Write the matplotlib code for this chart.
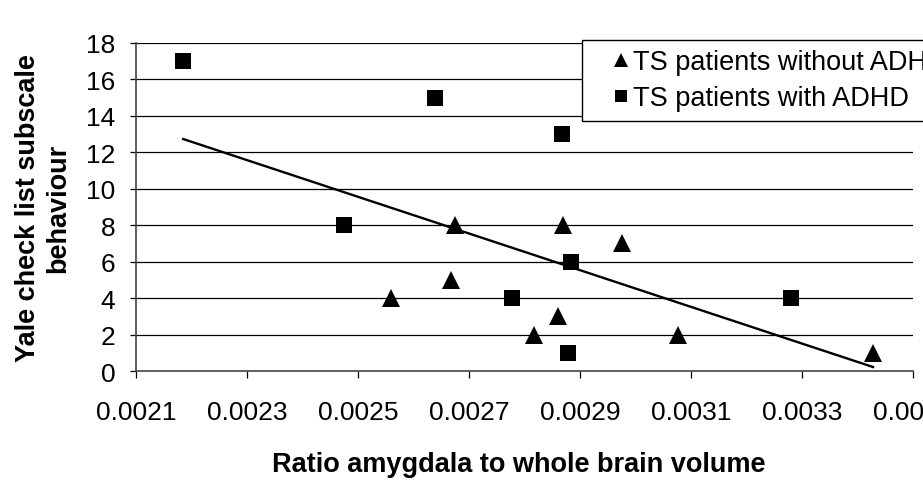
import matplotlib
matplotlib.use('Agg')
import matplotlib.pyplot as plt
import numpy as np

plt.rcParams['font.family'] = ['Liberation Sans', 'DejaVu Sans']

# TS patients without ADHD (triangles)
x_without = [0.002675, 0.002870, 0.002975, 0.002668, 0.002559,
             0.002861, 0.002817, 0.003076, 0.003428]
y_without = [8, 8, 7, 5, 4, 3, 2, 2, 1]

# TS patients with ADHD (squares)
x_with = [0.002185, 0.002639, 0.002867, 0.002474, 0.002884,
          0.002778, 0.002879, 0.003280]
y_with = [17, 15, 13, 8, 6, 4, 1, 4]

x_ticks = [0.0021, 0.0023, 0.0025, 0.0027, 0.0029, 0.0031, 0.0033, 0.0035]
y_ticks = [0, 2, 4, 6, 8, 10, 12, 14, 16, 18]

W, H = 923, 481
fig = plt.figure(figsize=(W / 100, H / 100), dpi=100)
ax = fig.add_axes([136 / W, 1 - 372 / H, 777 / W, 328 / H])

# gridlines
for yv in y_ticks[1:]:
    ax.axhline(yv, color='black', lw=0.9, zorder=1)

ax.plot(x_without, y_without, linestyle='none', marker='^', ms=12.8,
        color='black', mew=0, label='TS patients without ADHD', zorder=3)
ax.plot(x_with, y_with, linestyle='none', marker='s', ms=11.5,
        color='black', mew=0, label='TS patients with ADHD', zorder=3)

# linear trend over all points
all_x = np.array(x_without + x_with)
all_y = np.array(y_without + y_with)
k, b = np.polyfit(all_x, all_y, 1)
tx = np.array([all_x.min(), all_x.max()])
ax.plot(tx, k * tx + b, color='black', lw=1.7, zorder=2)

ax.set_xlim(0.0021, 0.0035)
ax.set_ylim(0, 18)
ax.set_xticks(x_ticks)
ax.set_xticklabels(['%.4f' % v for v in x_ticks])
ax.set_yticks(y_ticks)
ax.tick_params(axis='x', direction='out', length=5, width=0.9, pad=16,
               labelsize=19)
ax.tick_params(axis='y', direction='out', length=4, width=0.9, pad=11,
               labelsize=19)

for s in ['top', 'right']:
    ax.spines[s].set_visible(False)
for s in ['left', 'bottom']:
    ax.spines[s].set_color('#444444')
    ax.spines[s].set_linewidth(1.2)

fig.text(519 / W, 1 - 465 / H, 'Ratio amygdala to whole brain volume',
         ha='center', va='center', fontsize=19.5, fontweight='bold')
fig.text(43 / W, 1 - 208 / H, 'Yale check list subscale\nbehaviour',
         ha='center', va='center', rotation=90, fontsize=19.5,
         fontweight='bold', multialignment='center', linespacing=1.2)

leg = ax.legend(loc='upper left', bbox_to_anchor=(582 / W, 1 - 41 / H),
                bbox_transform=fig.transFigure, borderaxespad=0,
                fontsize=19.5, frameon=True, fancybox=False, shadow=False,
                markerscale=0.78, handlelength=2.2, handletextpad=-0.65,
                borderpad=0.35, labelspacing=0.36)
leg.get_frame().set_edgecolor('black')
leg.get_frame().set_linewidth(1.0)
leg.get_frame().set_alpha(1)
leg.set_zorder(5)

fig.savefig('out.png', dpi=100)
